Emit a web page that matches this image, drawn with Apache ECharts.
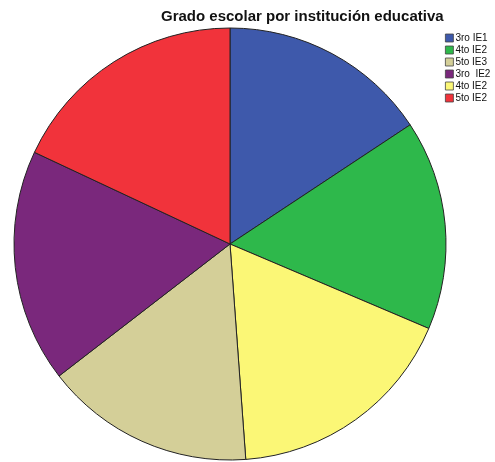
<!DOCTYPE html>
<html>
<head>
<meta charset="utf-8">
<script src="https://cdn.jsdelivr.net/npm/echarts@6/dist/echarts.min.js"></script>
<style>
  html, body { margin: 0; padding: 0; background: #fff; }
  #chart { width: 495px; height: 462px; }
</style>
</head>
<body>
<div id="chart"></div>
<script>
// sectores en el orden del pastel (sentido horario desde arriba)
var grupos = ['3ro IE1', '4to IE2', '4to IE2\u200b', '5to IE3', '3ro  IE2', '5to IE2'];
var valores = [27, 27, 30, 27, 30, 31];
var colores = ['#3e59ab', '#2eb84b', '#fbf776', '#d4cf98', '#7a287c', '#f1333b'];
// orden de la leyenda
var leyenda = ['3ro IE1', '4to IE2', '5to IE3', '3ro  IE2', '4to IE2\u200b', '5to IE2'];

var myChart = echarts.init(document.getElementById('chart'));

var datos = [];
for (var i = 0; i < grupos.length; i++) {
    datos.push({ name: grupos[i], value: valores[i], itemStyle: { color: colores[i] } });
}

var option = {
    animation: false,
    title: {
        text: 'Grado escolar por institución educativa',
        left: 156,
        top: 4,
        textStyle: { fontFamily: 'Liberation Sans', fontSize: 15, fontWeight: 'bold', color: '#111' }
    },
    legend: {
        orient: 'vertical',
        left: 440,
        top: 28,
        itemWidth: 8,
        itemHeight: 8,
        itemGap: 2,
        icon: 'rect',
        data: leyenda,
        itemStyle: { borderColor: '#444', borderWidth: 0.8 },
        textStyle: { fontFamily: 'Liberation Sans', fontSize: 10, lineHeight: 8, color: '#111', padding: [0, 0, 0, -3] },
        formatter: function (n) { return n.replace('\u200b', ''); }
    },
    series: [{
        type: 'pie',
        center: [230, 244],
        radius: 216,
        startAngle: 90,
        clockwise: true,
        label: { show: false },
        labelLine: { show: false },
        itemStyle: { borderColor: '#222', borderWidth: 1 },
        emphasis: { disabled: true },
        data: datos
    }]
};

myChart.setOption(option);
</script>
</body>
</html>
